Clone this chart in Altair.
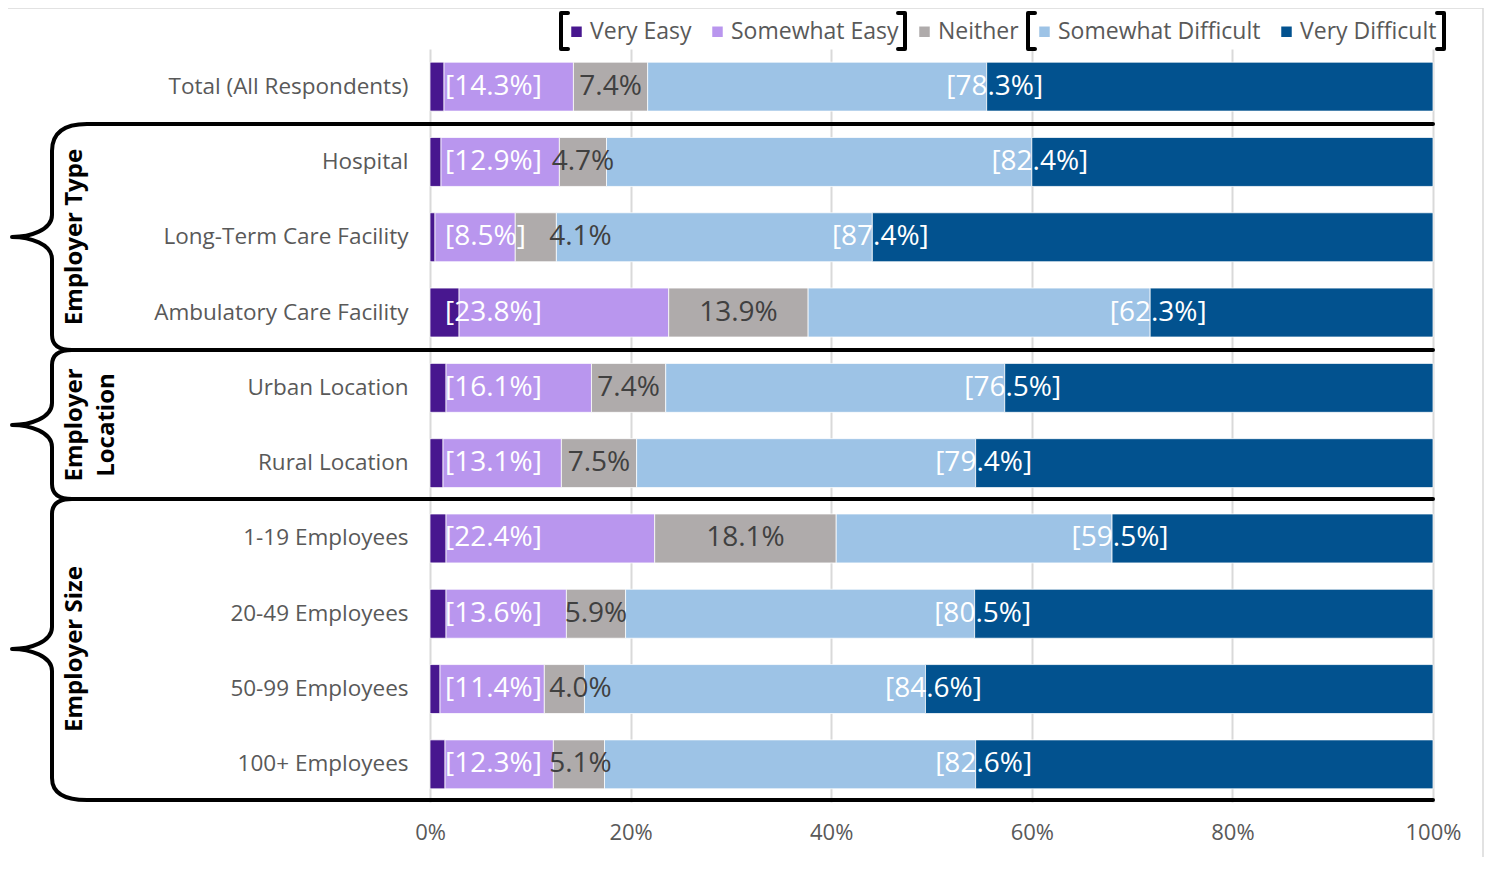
import altair as alt
import pandas as pd

categories = [
    "Total (All Respondents)",
    "Hospital",
    "Long-Term Care Facility",
    "Ambulatory Care Facility",
    "Urban Location",
    "Rural Location",
    "1-19 Employees",
    "20-49 Employees",
    "50-99 Employees",
    "100+ Employees",
]
very_easy = [1.4, 1.1, 0.5, 2.9, 1.6, 1.3, 1.6, 1.6, 1.0, 1.5]
somewhat_easy = [12.9, 11.8, 8.0, 20.9, 14.5, 11.8, 20.8, 12.0, 10.4, 10.8]
neither = [7.4, 4.7, 4.1, 13.9, 7.4, 7.5, 18.1, 5.9, 4.0, 5.1]
somewhat_difficult = [33.8, 42.4, 31.5, 34.1, 33.8, 33.8, 27.5, 34.8, 34.0, 37.0]
very_difficult = [44.5, 40.0, 55.9, 28.2, 42.7, 45.6, 32.0, 45.7, 50.6, 45.6]

levels = ["Very Easy", "Somewhat Easy", "Neither", "Somewhat Difficult", "Very Difficult"]
colors = ["#48178f", "#b996ee", "#afabab", "#9dc3e6", "#02528f"]
tick_values = [0, 20, 40, 60, 80, 100]
group_titles = ["Employer Type", ["Employer", "Location"], "Employer Size"]

df = pd.DataFrame({
    "category": categories,
    "ve": very_easy,
    "se": somewhat_easy,
    "ne": neither,
    "sd": somewhat_difficult,
    "vd": very_difficult,
})

FONT = "Open Sans"
OX, OY = 430, 49
W, H = 1003, 753
R = 1433


def P(x, y):
    return f"{x - OX:.1f},{y - OY:.1f}"


def brace_top_first(y0, ytip, y1):
    return (
        f"M{P(R, y0)} L{P(87, y0)} Q{P(52, y0)} {P(52, y0 + 27)} "
        f"L{P(52, ytip - 22)} C{P(52, ytip - 7)} {P(30, ytip)} {P(12, ytip)} "
        f"C{P(30, ytip)} {P(52, ytip + 7)} {P(52, ytip + 22)} "
        f"L{P(52, y1 - 15)} Q{P(52, y1)} {P(72, y1)} L{P(R, y1)} "
    )


def brace_mid(y0, ytip, y1, last=False):
    s = (
        f"M{P(72, y0)} Q{P(52, y0)} {P(52, y0 + 15)} "
        f"L{P(52, ytip - 22)} C{P(52, ytip - 7)} {P(30, ytip)} {P(12, ytip)} "
        f"C{P(30, ytip)} {P(52, ytip + 7)} {P(52, ytip + 22)} "
    )
    if last:
        s += f"L{P(52, y1 - 22)} Q{P(52, y1)} {P(87, y1)} L{P(R, y1)} "
    else:
        s += f"L{P(52, y1 - 15)} Q{P(52, y1)} {P(72, y1)} L{P(R, y1)} "
    return s


brace_path = (
    brace_top_first(124, 237, 350)
    + brace_mid(350, 425, 499)
    + brace_mid(499, 649, 800, last=True)
)


def bracket(x, open_left=True):
    if open_left:
        return f"M{P(x + 7, 13)} L{P(x, 13)} L{P(x, 49)} L{P(x + 7, 49)} "
    return f"M{P(x - 7, 13)} L{P(x, 13)} L{P(x, 49)} L{P(x - 7, 49)} "


bracket_path = bracket(561) + bracket(905, False) + bracket(1028) + bracket(1444, False)
border_path = f"M{P(7, 860)} L{P(7, 8)} L{P(1483, 8)} L{P(1483, 860)}"

y_enc = alt.Y(
    "category:N",
    sort=categories,
    scale=alt.Scale(paddingInner=0.35, paddingOuter=0.175),
    axis=alt.Axis(
        title=None, ticks=False, domain=False, labelFont=FONT, labelFontSize=22.5,
        labelColor="#595959", labelPadding=22, labelLimit=400,
    ),
)

x_scale = alt.Scale(domain=[0, 100], nice=False)

bars = (
    alt.Chart(df)
    .transform_fold(["ve", "se", "ne", "sd", "vd"], as_=["key", "value"])
    .transform_calculate(
        level="{'ve':'Very Easy','se':'Somewhat Easy','ne':'Neither','sd':'Somewhat Difficult','vd':'Very Difficult'}[datum.key]",
        ord="indexof(['ve','se','ne','sd','vd'], datum.key)",
    )
    .mark_bar(stroke="white", strokeWidth=0.75)
    .encode(
        y=y_enc,
        x=alt.X(
            "value:Q", stack="zero", scale=x_scale,
            axis=alt.Axis(
                values=tick_values, labelExpr="datum.value + '%'", title=None,
                grid=True, gridColor="#d9d9d9", gridWidth=2, domain=False,
                ticks=False, labelPadding=20, labelFont=FONT, labelFontSize=22,
                labelColor="#595959", labelFlush=False,
            ),
        ),
        color=alt.Color(
            "level:N",
            scale=alt.Scale(domain=levels, range=colors),
            legend=alt.Legend(
                orient="none", legendX=135, legendY=-29, direction="horizontal",
                title=None, symbolType="square", symbolSize=110, symbolStrokeWidth=0,
                labelFont=FONT, labelFontSize=23, labelColor="#595959",
                columnPadding=14, labelOffset=2, padding=0, labelLimit=400,
            ),
        ),
        order=alt.Order("ord:Q"),
    )
)

base = alt.Chart(df).transform_calculate(
    easy_label="'[' + format(datum.ve + datum.se, '.1f') + '%]'",
    ne_label="format(datum.ne, '.1f') + '%'",
    ne_x="max(datum.ve + datum.se + datum.ne / 2, 15)",
    sd_end="datum.ve + datum.se + datum.ne + datum.sd",
    diff_label="'[' + format(datum.sd + datum.vd, '.1f') + '%]'",
)

easy_text = base.mark_text(
    align="left", dx=15, font=FONT, fontSize=28, color="white"
).encode(y=y_enc, x=alt.datum(0, scale=x_scale), text="easy_label:N")

ne_text = base.mark_text(
    align="center", font=FONT, fontSize=28, color="#404040"
).encode(y=y_enc, x=alt.X("ne_x:Q", scale=x_scale), text="ne_label:N")

diff_text = base.mark_text(
    align="center", dx=8, font=FONT, fontSize=28, color="white"
).encode(y=y_enc, x=alt.X("sd_end:Q", scale=x_scale), text="diff_label:N")

one = pd.DataFrame({"k": [0]})


def path_mark(path, color, width):
    return alt.Chart(one).mark_point(
        shape=path, size=4, filled=False, color=color, strokeWidth=width,
        opacity=1, strokeCap="round", strokeJoin="round",
    ).encode(x=alt.value(0), y=alt.value(0))


braces = path_mark(brace_path, "black", 4)
brackets = path_mark(bracket_path, "black", 4)
border = path_mark(border_path, "#d9d9d9", 1.5)

title_pos = [(75, 237), (75, 425), (75, 649)]
titles = [
    alt.Chart(one).mark_text(
        angle=270, font=FONT, fontSize=24, fontWeight="bold", color="black",
        lineHeight=32, baseline="middle", align="center",
    ).encode(x=alt.value(tx - OX), y=alt.value(ty - OY), text=alt.value(t))
    for t, (tx, ty) in zip(group_titles, title_pos)
]

chart = alt.layer(
    border, bars, easy_text, ne_text, diff_text, braces, brackets, *titles
).properties(
    width=W, height=H,
    padding={"left": OX - 8, "top": OY - 8, "right": 51, "bottom": 55},
    autosize=alt.AutoSizeParams(type="none"),
).configure_view(stroke=None)

chart.save("out.html", embed_options={"renderer": "svg", "actions": False})
